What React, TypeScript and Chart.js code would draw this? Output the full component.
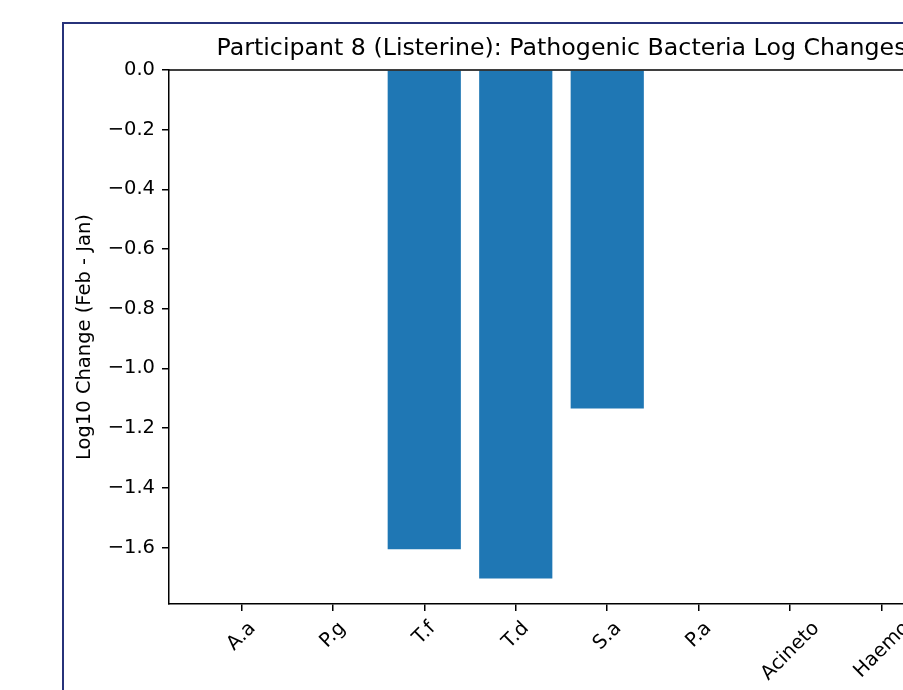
import React, { useEffect, useRef } from "react";
import { Chart, registerables } from "chart.js";

Chart.register(...registerables);

// ---- data ----
const categories = ["A.a", "P.g", "T.f", "T.d", "S.a", "P.a", "Acineto", "Haemo"];
const logChanges = [0, 0, -1.606, -1.704, -1.134, 0, 0, 0];
const xTickValues = [0, 1, 2, 3, 4, 5, 6, 7];
const yTickValues = [0, -0.2, -0.4, -0.6, -0.8, -1.0, -1.2, -1.4, -1.6];
const titleText = "Participant 8 (Listerine): Pathogenic Bacteria Log Changes";
const yAxisLabel = "Log10 Change (Feb - Jan)";

// ---- axis limits ----
const xMin = -0.79;
const xMax = 7.79;
const yMin = -1.7895;
const yMax = 0;

const FONT = '"DejaVu Sans", sans-serif';
const TICK_FS = 19.5;
const TITLE_FS = 23.7;
const CANVAS_W = 1000;
const CANVAS_H = 760;

const fmtY = (v: number) => (Math.abs(v) < 1e-9 ? "0.0" : "\u2212" + Math.abs(v).toFixed(1));

const frameSpines = {
  id: "frameSpines",
  afterDraw(chart: any) {
    const { ctx, chartArea } = chart;
    ctx.save();
    ctx.strokeStyle = "#000";
    ctx.lineWidth = 1.5;
    ctx.beginPath();
    ctx.moveTo(chartArea.left, chartArea.top);
    ctx.lineTo(chartArea.right, chartArea.top);
    ctx.lineTo(chartArea.right, chartArea.bottom);
    ctx.stroke();
    ctx.restore();
  },
};

const rotatedXLabels = {
  id: "rotatedXLabels",
  afterDraw(chart: any) {
    const { ctx, chartArea } = chart;
    const xs = chart.scales.x;
    ctx.save();
    ctx.font = `${TICK_FS}px ${FONT}`;
    ctx.fillStyle = "#000";
    ctx.textAlign = "center";
    ctx.textBaseline = "alphabetic";
    const h = 0.968 * TICK_FS;
    const top = chartArea.bottom + 14.5;
    xTickValues.forEach((v, i) => {
      const label = categories[i];
      const x = xs.getPixelForValue(v);
      const w = ctx.measureText(label).width;
      const cy = top + ((w + h) * Math.SQRT1_2) / 2;
      ctx.save();
      ctx.translate(x, cy);
      ctx.rotate(-Math.PI / 4);
      ctx.fillText(label, 0, 0.276 * TICK_FS);
      ctx.restore();
    });
    ctx.restore();
  },
};

export default function App() {
  const ref = useRef<HTMLCanvasElement | null>(null);

  useEffect(() => {
    if (!ref.current) return;
    Chart.defaults.font.family = FONT;
    const chart = new Chart(ref.current, {
      type: "bar",
      data: {
        datasets: [
          {
            data: logChanges.map((v, i) => ({ x: xTickValues[i], y: v })),
            backgroundColor: "#1f77b4",
            borderWidth: 0,
            barPercentage: 0.8,
            categoryPercentage: 1.0,
          },
        ],
      },
      options: {
        animation: false,
        responsive: false,
        maintainAspectRatio: false,
        events: [],
        layout: { padding: { left: 73, right: 46, top: 0, bottom: 0 } },
        plugins: {
          legend: { display: false },
          tooltip: { enabled: false },
          title: {
            display: true,
            text: titleText,
            color: "#000",
            fullSize: false,
            font: { size: TITLE_FS, weight: "normal", lineHeight: 1.2, family: FONT },
            padding: { top: 34.9, bottom: 6.66 },
          },
        },
        scales: {
          x: {
            type: "linear",
            min: xMin,
            max: xMax,
            offset: false,
            afterBuildTicks: (s: any) => {
              s.ticks = xTickValues.map((v) => ({ value: v }));
            },
            afterFit: (s: any) => {
              s.height = CANVAS_H - 604;
            },
            ticks: { display: false },
            grid: {
              offset: false,
              drawOnChartArea: false,
              drawTicks: true,
              tickLength: 7,
              color: "#000",
              lineWidth: 1.5,
            },
            border: { display: true, color: "#000", width: 1.5 },
          },
          y: {
            type: "linear",
            min: yMin,
            max: yMax,
            afterBuildTicks: (s: any) => {
              s.ticks = yTickValues.map((v) => ({ value: v }));
            },
            afterFit: (s: any) => {
              s.width = 169 - 73;
            },
            ticks: {
              color: "#000",
              padding: 7,
              font: { size: TICK_FS, family: FONT },
              callback: (v: any) => fmtY(Number(v)),
            },
            grid: {
              drawOnChartArea: false,
              drawTicks: true,
              tickLength: 7,
              color: "#000",
              lineWidth: 1.5,
            },
            border: { display: true, color: "#000", width: 1.5 },
            title: {
              display: true,
              text: yAxisLabel,
              color: "#000",
              padding: 0,
              font: { size: TICK_FS, lineHeight: 1.2, family: FONT },
            },
          },
        },
      } as any,
      plugins: [frameSpines, rotatedXLabels],
    });
    return () => chart.destroy();
  }, []);

  return (
    <div
      style={{
        position: "absolute",
        left: 0,
        top: 0,
        width: 903,
        height: 690,
        overflow: "hidden",
        background: "#fff",
      }}
    >
      <canvas
        ref={ref}
        width={CANVAS_W}
        height={CANVAS_H}
        style={{ position: "absolute", left: 0, top: 0, display: "block" }}
      />
      <div
        style={{
          position: "absolute",
          left: 62,
          top: 22,
          width: 2000,
          height: 2000,
          borderLeft: "2px solid #27327a",
          borderTop: "2px solid #27327a",
          pointerEvents: "none",
        }}
      />
    </div>
  );
}
